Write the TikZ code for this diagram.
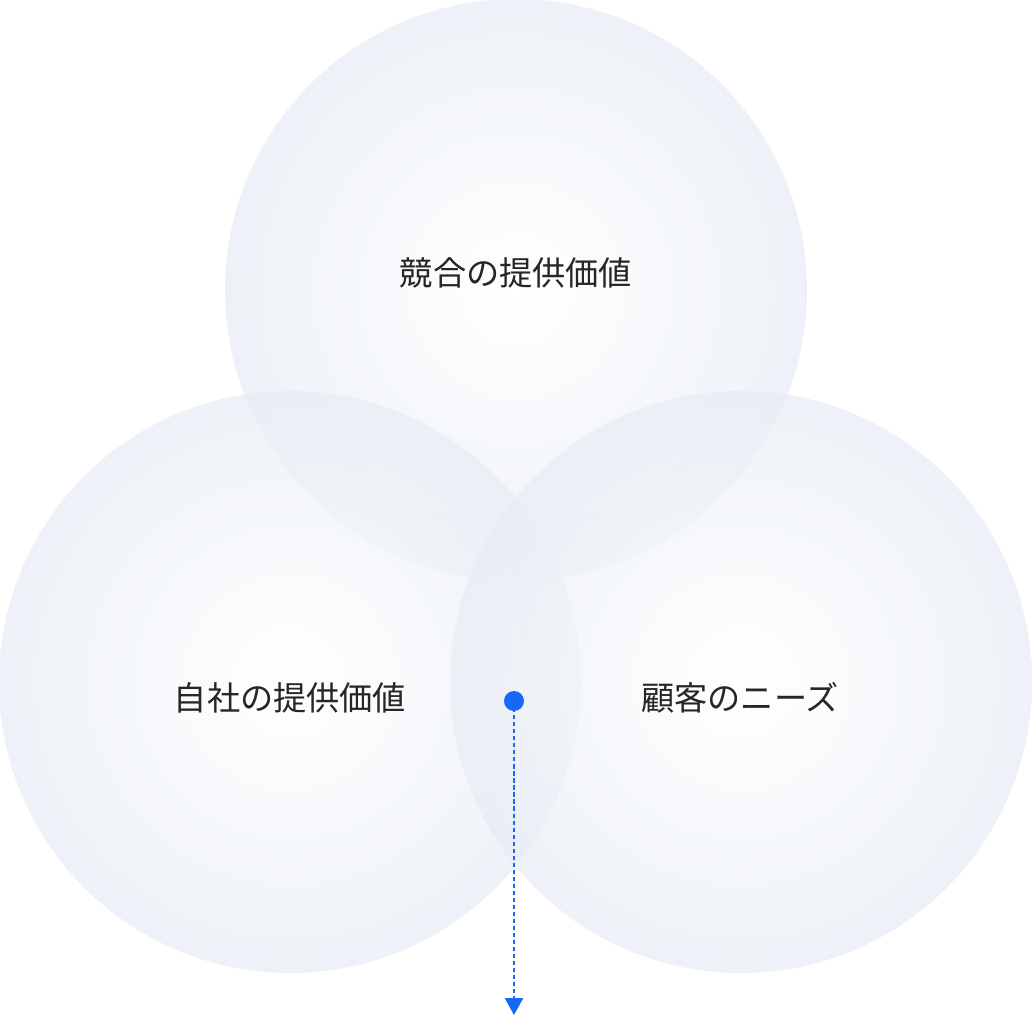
\documentclass[tikz,border=0pt]{standalone}
\usepackage{fontspec}
\newfontfamily\cjk{Noto Sans CJK JP}
\usetikzlibrary{arrows.meta}
\definecolor{ringedge}{RGB}{232,237,245}
\definecolor{dotblue}{RGB}{22,104,245}
\begin{document}
\begin{tikzpicture}[x=0.025cm,y=-0.025cm]
  \tikzstyle{ring}=[shading=radial, inner color=white, outer color=ringedge, fill opacity=0.75, draw=none]
  \tikzstyle{label}=[font=\cjk\fontsize{23.6}{28}\selectfont, text=black!85]

  % Frame
  \useasboundingbox (0,0) rectangle (1032,1017);

  % Circles
  \shade[ring] (516,290) circle (291);
  \shade[ring] (290,682) circle (291);
  \shade[ring] (741,682) circle (291);

  % Labels
  \node[label] (rival) at (516,273) {競合の提供価値};
  \node[label] (own)   at (290,698) {自社の提供価値};
  \node[label] (need)  at (740,698) {顧客のニーズ};

  % Marker
  \fill[dotblue] (514,701) circle (10);
  \coordinate (dot) at (514,701);
  \coordinate (tip) at (514,1015);
  \draw[dotblue, thick, dash pattern=on 3pt off 2pt, -{Triangle[length=12pt,width=13pt]}] (dot) -- (tip);
\end{tikzpicture}
\end{document}
